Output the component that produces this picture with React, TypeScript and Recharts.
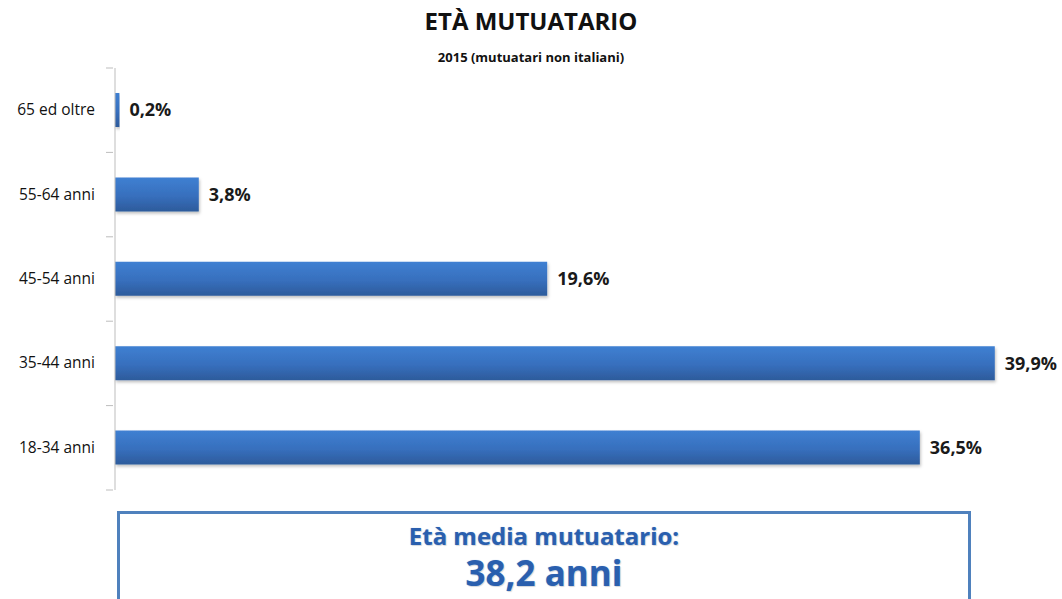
import { BarChart, Bar, XAxis, YAxis, LabelList } from 'recharts'

const categories = ['65 ed oltre', '55-64 anni', '45-54 anni', '35-44 anni', '18-34 anni']
const shares = [0.2, 3.8, 19.6, 39.9, 36.5]
const title = 'ETÀ MUTUATARIO'
const subtitle = '2015 (mutuatari non italiani)'
const averageLabel = 'Età media mutuatario:'
const averageValue = '38,2 anni'

const data = categories.map((name, i) => ({ name, value: shares[i] }))

const FONT = '"Open Sans", Lato, sans-serif'
const CHART_H = 500
const MARGIN = { top: 68, right: 65, bottom: 10, left: 0 }
const BAND = (CHART_H - MARGIN.top - MARGIN.bottom) / categories.length

const fmt = (v: any) => `${Number(v).toFixed(1).replace('.', ',')}%`

function CategoryTick(props: any) {
  const { x, y, payload, index } = props
  const axisX = x + 6
  return (
    <g>
      <line x1={axisX - 7} x2={axisX} y1={y - BAND / 2} y2={y - BAND / 2} stroke="#bdbdbd" />
      {index === categories.length - 1 && (
        <line x1={axisX - 7} x2={axisX} y1={y + BAND / 2} y2={y + BAND / 2} stroke="#bdbdbd" />
      )}
      <text x={x - 12} y={y} dy={5} textAnchor="end" fontSize={15.5} fontWeight={500} fill="#111" fontFamily={FONT}>
        {payload.value}
      </text>
    </g>
  )
}

export default function App() {
  return (
    <div style={{ position: 'absolute', top: 0, left: 0, width: 1062, height: 599, overflow: 'hidden', background: '#fff', fontFamily: FONT }}>
      <div style={{ position: 'absolute', top: 4, width: 1062, textAlign: 'center', fontSize: 24, fontWeight: 700, color: '#111', letterSpacing: 0 }}>
        {title}
      </div>
      <div style={{ position: 'absolute', top: 48, width: 1062, textAlign: 'center', fontSize: 13, fontWeight: 700, color: '#111' }}>
        {subtitle}
      </div>
      <BarChart width={1062} height={CHART_H} data={data} layout="vertical" margin={MARGIN}>
        <defs>
          <linearGradient id="barFill" x1="0" y1="0" x2="0" y2="1">
            <stop offset="0%" stopColor="#3f80d2" />
            <stop offset="55%" stopColor="#376fbd" />
            <stop offset="100%" stopColor="#2d5b9b" />
          </linearGradient>
          <filter id="barShadow" x="-5%" y="-20%" width="110%" height="150%">
            <feDropShadow dx="1" dy="2" stdDeviation="1.5" floodColor="#000" floodOpacity="0.25" />
          </filter>
        </defs>
        <XAxis type="number" domain={[0, 40]} hide />
        <YAxis
          type="category"
          dataKey="name"
          width={115}
          axisLine={{ stroke: '#bdbdbd' }}
          tickLine={false}
          tick={<CategoryTick />}
        />
        <Bar dataKey="value" barSize={34} fill="url(#barFill)" filter="url(#barShadow)" isAnimationActive={false}>
          <LabelList
            dataKey="value"
            position="right"
            offset={10}
            formatter={fmt}
            style={{ fontSize: 18, fontWeight: 700, fill: '#1a1a1a', fontFamily: FONT }}
          />
        </Bar>
      </BarChart>
      <div
        style={{
          position: 'absolute',
          left: 117,
          top: 511,
          width: 848,
          height: 120,
          border: '3px solid #4f81bd',
          textAlign: 'center',
          color: '#2a5fae',
          fontWeight: 700,
          textShadow: '0 0 1px #9bbbe6, 1px 1px 1px rgba(0,0,0,0.15)',
        }}
      >
        <div style={{ marginTop: 8, fontSize: 24, lineHeight: '28px', height: 28 }}>{averageLabel}</div>
        <div style={{ marginTop: 2, fontSize: 35, lineHeight: '42px', height: 42 }}>{averageValue}</div>
      </div>
    </div>
  )
}
